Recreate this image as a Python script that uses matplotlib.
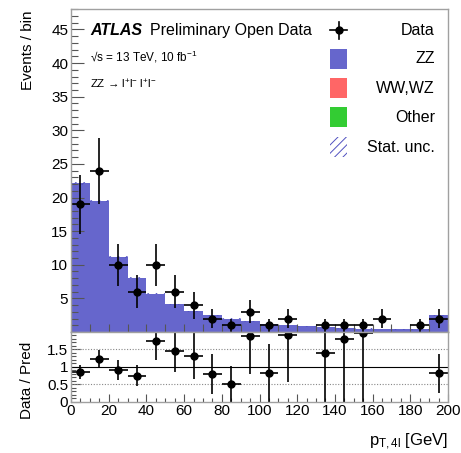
import numpy as np
import matplotlib
matplotlib.use("Agg")
import matplotlib.pyplot as plt
from matplotlib.patches import Rectangle
from matplotlib.lines import Line2D
from matplotlib.ticker import MultipleLocator, FixedLocator, FixedFormatter

plt.rcParams['font.family'] = ['Liberation Sans', 'DejaVu Sans']
plt.rcParams['mathtext.fontset'] = 'custom'
plt.rcParams['mathtext.rm'] = 'Liberation Sans'
plt.rcParams['mathtext.it'] = 'Liberation Sans:italic'
plt.rcParams['mathtext.bf'] = 'Liberation Sans:bold'
plt.rcParams['hatch.linewidth'] = 0.7

# ---- data ----
bin_edges = list(range(0, 210, 10))
data_counts = [19, 24, 10, 6, 10, 6, 4, 2, 1, 3, 1, 2, 0, 1, 1, 1, 2, 0, 1, 2]
zz_pred = [22.1, 19.5, 11.1, 8.1, 5.7, 4.1, 3.05, 2.5, 1.97, 1.59,
           1.2, 1.05, 0.85, 0.72, 0.56, 0.51, 0.45, 0.4, 0.4, 2.47]
wwwz_pred = [0.0] * 20
other_pred = [0.0] * 20
mc_stat_unc = [0.2, 0.2, 0.15, 0.13, 0.11, 0.1, 0.09, 0.08, 0.07, 0.06,
               0.05, 0.05, 0.05, 0.04, 0.04, 0.04, 0.04, 0.03, 0.03, 0.08]
ratio_ytick_labels = ['0', '0.5', '1', '1.5']
legend_labels = ['Data', 'ZZ', 'WW,WZ', 'Other', 'Stat. unc.']

c_zz = '#6666cc'
c_ww = '#ff6666'
c_other = '#33cc33'
c_hatch = '#5050c0'
spine_c = '#a0a0a0'

edges = np.array(bin_edges, dtype=float)
centers = 0.5 * (edges[:-1] + edges[1:])
halfw = 0.5 * np.diff(edges)
data = np.array(data_counts, dtype=float)
zz = np.array(zz_pred)
ww = np.array(wwwz_pred)
oth = np.array(other_pred)
tot = zz + ww + oth
stat = np.array(mc_stat_unc)

W, H = 461, 453
fig = plt.figure(figsize=(W / 100, H / 100), dpi=100)
L, R = 71, 448
top_main, bot_main, bot_ratio = 9.3, 332.0, 401.7
ax = fig.add_axes([L / W, 1 - bot_main / H, (R - L) / W, (bot_main - top_main) / H])
axr = fig.add_axes([L / W, 1 - bot_ratio / H, (R - L) / W, (bot_ratio - bot_main) / H])

# ---- main panel ----
ax.stairs(zz, edges, fill=True, color=c_zz, linewidth=0)
ax.stairs(zz + ww, edges, baseline=zz, fill=True, color=c_ww, linewidth=0)
ax.stairs(tot, edges, baseline=zz + ww, fill=True, color=c_other, linewidth=0)
ax.bar(centers, 2 * stat, width=2 * halfw, bottom=tot - stat, fill=False,
       hatch='////', edgecolor=c_hatch, linewidth=0)

m = data > 0
ax.errorbar(centers[m], data[m], xerr=halfw[m], yerr=np.sqrt(data[m]),
            fmt='o', color='black', markersize=5, elinewidth=1.2, capsize=0)

ax.set_xlim(0, 200)
ax.set_ylim(0, 48)
ax.yaxis.set_major_locator(FixedLocator([5, 10, 15, 20, 25, 30, 35, 40, 45]))
ax.yaxis.set_minor_locator(MultipleLocator(1))
ax.xaxis.set_major_locator(MultipleLocator(20))
ax.xaxis.set_minor_locator(MultipleLocator(10))
ax.tick_params(axis='x', labelbottom=False)
ax.tick_params(axis='both', which='both', direction='in', color='#555555', width=0.8)
ax.tick_params(axis='y', which='major', length=9, labelsize=11, pad=2)
ax.tick_params(axis='y', which='minor', length=5)
ax.tick_params(axis='x', which='major', length=6)
ax.tick_params(axis='x', which='minor', length=6)
for s in ax.spines.values():
    s.set_color(spine_c)
    s.set_linewidth(1.0)

# text
ax.text(0.0504, 0.9195, 'ATLAS', transform=ax.transAxes, fontsize=11.5,
        fontweight='bold', fontstyle='italic', va='baseline', ha='left')
ax.text(0.2095, 0.9195, 'Preliminary Open Data', transform=ax.transAxes,
        fontsize=11.5, va='baseline', ha='left')
ax.text(0.0504, 0.839, '\u221as = 13 TeV, 10 fb$^{-1}$', transform=ax.transAxes,
        fontsize=8.5, va='baseline', ha='left')
ax.text(0.0504, 0.755, 'ZZ \u2192 l$^{+}$l$^{-}$ l$^{+}$l$^{-}$', transform=ax.transAxes,
        fontsize=8.2, va='baseline', ha='left')

# legend (manual)
row_y = [0.935, 0.846, 0.756, 0.665, 0.573]
bx0, bw, bh = 0.6878, 0.0443, 0.0619
mx = bx0 + bw / 2
ax.add_line(Line2D([bx0, bx0 + bw], [row_y[0]] * 2, transform=ax.transAxes,
                   color='black', lw=1.2))
ax.add_line(Line2D([mx, mx], [row_y[0] - 0.027, row_y[0] + 0.027], transform=ax.transAxes,
                   color='black', lw=1.2))
ax.plot([mx], [row_y[0]], 'o', color='black', markersize=5, transform=ax.transAxes)
for yy, c in zip(row_y[1:4], [c_zz, c_ww, c_other]):
    ax.add_patch(Rectangle((bx0, yy - bh / 2), bw, bh, transform=ax.transAxes,
                           facecolor=c, edgecolor='none'))
ax.add_patch(Rectangle((bx0, row_y[4] - bh / 2), bw, bh, transform=ax.transAxes,
                       fill=False, hatch='////', edgecolor=c_hatch, linewidth=0))
for yy, lab in zip(row_y, legend_labels):
    ax.text(0.9655, yy, lab, transform=ax.transAxes, fontsize=11.5,
            ha='right', va='center')

# ---- ratio panel ----
ratio = np.where(tot > 0, data / tot, 0)
rerr = np.sqrt(data) / tot
mr = (data > 0) & (ratio <= 2.0)
axr.axhline(1.0, color='black', lw=0.8)
for yv in (0.5, 1.5):
    axr.axhline(yv, color='#888888', lw=0.8, ls=(0, (1, 1.5)))
axr.errorbar(centers[mr], ratio[mr], xerr=halfw[mr], yerr=rerr[mr],
             fmt='o', color='black', markersize=5, elinewidth=1.2, capsize=0,
             clip_on=True)
axr.set_xlim(0, 200)
axr.set_ylim(0, 2.0)
axr.yaxis.set_major_locator(FixedLocator([0, 0.5, 1.0, 1.5]))
axr.yaxis.set_major_formatter(FixedFormatter(ratio_ytick_labels))
axr.yaxis.set_minor_locator(MultipleLocator(0.1))
axr.xaxis.set_major_locator(MultipleLocator(20))
axr.xaxis.set_minor_locator(MultipleLocator(5))
axr.tick_params(axis='both', which='both', direction='in', color='#555555', width=0.8)
axr.tick_params(axis='both', which='major', labelsize=11)
axr.tick_params(axis='y', which='major', length=7, pad=2)
axr.tick_params(axis='y', which='minor', length=3.5)
axr.tick_params(axis='x', which='major', length=6, pad=2)
axr.tick_params(axis='x', which='minor', length=3)
for s in axr.spines.values():
    s.set_color(spine_c)
    s.set_linewidth(1.0)

# axis labels
fig.text(28 / W, 1 - 10 / H, 'Events / bin', rotation=90, ha='center', va='top', fontsize=11)
fig.text(27 / W, 1 - 380 / H, 'Data / Pred', rotation=90, ha='center', va='center', fontsize=11)
fig.text(448 / W, 1 - 446 / H, r'p$_{\mathrm{T,4l}}$ [GeV]', ha='right', va='baseline',
         fontsize=12)

fig.savefig('out.png', dpi=100)
